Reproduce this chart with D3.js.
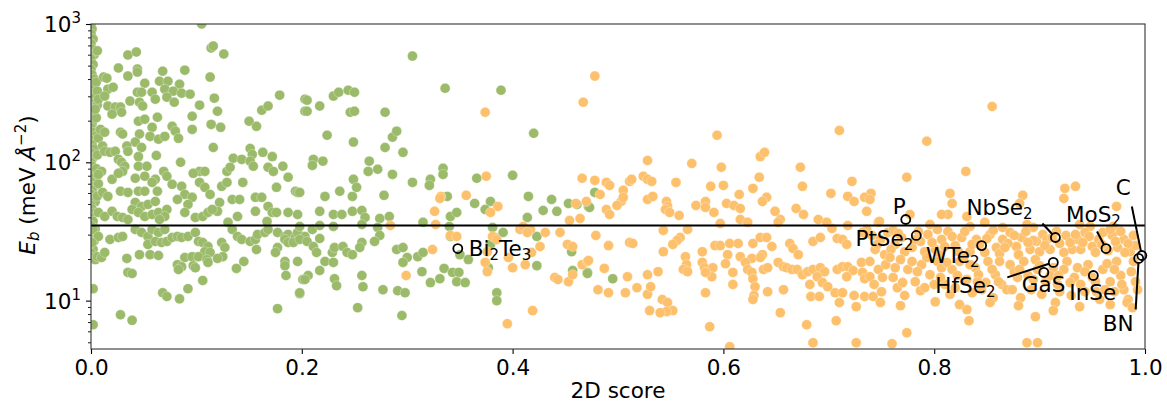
<!DOCTYPE html>
<html>
<head>
<meta charset="utf-8">
<script src="https://cdn.jsdelivr.net/npm/d3@7/dist/d3.min.js"></script>
<style>
	body { margin: 0; background: #fff; }
	text { font-family: "DejaVu Sans", sans-serif; fill: #000; }
</style>
</head>
<body>
<script>
// [2D score, Eb (meV/A^2)]
var greenPoints = [
	[0,1000],[0.001,920],[0,850],[0.002,780],[0,720],[0.001,660],[0.003,600],[0,560],[0.002,510],[0,470],[0.001,430],[0.003,400],[0,370],[0.002,340],[0,315],[0.001,290],[0.004,270],[0,250],[0.002,235],[0,220],[0.003,205],[0.001,190],[0,178],[0.002,165],[0.004,155],[0,145],[0.001,135],[0.003,125],[0,117],[0.002,108],[0,100],[0.001,94],[0.004,88],[0,82],[0.002,77],[0,72],[0.003,67],[0.001,63],[0,59],[0.002,55],[0.004,52],[0,49],[0.001,46],[0.003,43],[0,40],[0.002,37.5],[0,35],[0.004,33],[0.001,31],[0,29],[0.003,27],[0,25],[0.002,23.5],[0,22],[0.001,20.5],[0.004,19.8],[0.002,12.2],[0.002,6.7],
	[0.006,640],[0.005,380],[0.006,260],[0.005,210],[0.007,150],[0.006,113],[0.005,90],[0.007,70],[0.006,57],
	[0.105,1000],[0.114,670],[0.116,693],[0.126,606],[0.035,596],[0.043,627],[0.026,480],[0.035,420],[0.044,472],[0.044,449],[0.012,413],[0.015,406],[0.068,456],[0.089,464],[0.113,413],[0.051,373],[0.065,386],[0.073,386],[0.084,367],[0.016,338],[0.021,349],[0.044,321],[0.048,321],[0.058,321],[0.061,286],[0.070,338],[0.078,327],[0.086,316],[0.094,311],[0.072,296],[0.079,272],[0.037,277],[0.046,272],[0.049,255],[0.006,327],[0.007,286],[0.004,242],[0.013,301],[0.016,255],[0.023,251],[0.028,251],[0.029,230],[0.020,223],[0.103,259],[0.117,291],[0.120,234],[0.096,215],[0.114,188],[0.123,179],[0.063,212],[0.045,198],[0.051,205],[0.058,179],[0.077,182],[0.080,168],[0.083,149],[0.096,173],[0.009,173],[0.013,165],[0.028,165],[0.030,160],[0.046,160],[0.056,154],[0.064,147],[0.070,154],[0.042,140],[0.034,131],[0.035,120],[0.048,128],[0.011,131],[0.013,120],[0.018,118],[0.023,120],[0.026,105],[0.029,100],[0.032,93.6],[0.030,86],[0.045,110],[0.045,93.6],[0.053,93.6],[0.062,112],[0.085,100],[0.116,128],[0.135,107],[0.143,105],[0.151,126],[0.153,114],[0.151,102],[0.154,93.6],[0.163,118],[0.172,110],[0.150,198],[0.157,182],[0.162,238],[0.168,255],[0.179,306],[0.203,286],[0.203,234],[0.103,86],[0.108,86],[0.097,83.2],[0.069,86],[0.072,79.2],[0.129,86],[0.132,92],[0.168,92],[0.173,86],[0.182,93.6],[0.187,77.9],[0.010,86],[0.007,81.8],[0.020,75.3],[0.026,83.2],[0.042,76.6],[0.051,79.2],[0.061,75.3],
	[0.011,60.6],[0.016,56.7],[0.028,61.7],[0.035,60.6],[0.045,61.7],[0.051,61.7],[0.058,71.6],[0.063,61.7],[0.077,69.3],[0.086,67],[0.089,58.6],[0.096,55.8],[0.092,49.6],[0.103,71.6],[0.108,65.9],[0.113,58.6],[0.124,67],[0.129,71.6],[0.144,71.6],[0.176,65.9],[0.194,61.7],[0.196,60.6],[0.134,53.9],[0.141,53.9],[0.156,55.8],[0.162,55.8],[0.122,51.3],[0.120,44.2],[0.042,51.3],[0.048,48],[0.054,49.6],[0.061,52.1],[0.039,45.6],[0.045,43.4],[0.051,40.6],[0.058,42],[0.064,43.4],[0.007,43.4],[0.013,40.6],[0.020,44.2],[0.025,40.6],[0.030,39.9],[0.035,38.6],[0.082,53.9],[0.089,43.4],[0.099,39.9],[0.072,45.6],[0.070,40.6],[0.065,38.6],[0.106,40.6],[0.111,43.4],[0.115,45.6],[0.139,40.6],[0.156,44.2],[0.168,48],[0.172,43.4],[0.176,43.4],[0.187,43.4],[0.196,42],[0.130,36.8],[0.167,37.4],[0.002,32.7],[0.007,29.1],[0.001,26.3],[0.006,20.8],[0.010,20.5],[0.013,22.3],[0.018,27.7],[0.026,28.6],[0.030,29.1],[0.042,32.7],[0.048,31.1],[0.054,29.1],[0.058,32.7],[0.064,31.1],[0.070,32.7],[0.054,25.5],[0.061,26.8],[0.067,26.3],[0.072,26.8],[0.077,28.6],[0.082,29.1],[0.086,28.6],[0.092,29.1],[0.099,31.1],[0.102,26.8],[0.106,26.3],[0.111,24.6],[0.108,22.6],[0.113,22.3],[0.046,21.5],[0.056,21.5],[0.064,21.2],[0.089,20.5],[0.096,20.8],[0.102,20.8],[0.082,18.2],[0.086,17.6],[0.083,16.8],[0.097,17.9],[0.099,17.3],[0.110,19.8],[0.111,18.9],[0.124,26.3],[0.127,24.2],[0.125,20.8],[0.120,20.2],[0.134,32.7],[0.139,29.1],[0.143,27.7],[0.151,26.8],[0.156,27.7],[0.158,30.1],[0.165,31.1],[0.168,32.7],[0.177,31.1],[0.184,29.1],[0.187,30.1],[0.194,29.1],[0.196,31.1],[0.203,29.1],[0.184,27.7],[0.187,26.3],[0.192,26.3],[0.177,24.2],[0.175,22.3],[0.157,23.4],[0.145,19.2],[0.138,17.1],[0.034,20.2],[0.035,16.0],[0.039,15.7],[0.184,19.2],[0.184,17.9],[0.185,15.2],[0.196,19.2],[0.201,14.2],[0.198,11.2],[0.106,14.0],[0.092,12.2],[0.084,10.3],[0.068,11.4],[0.072,10.7],[0.028,7.9],[0.039,7.2],[0.177,8.75],
	[0.205,234],[0.217,255],[0.246,230],[0.250,234],[0.279,230],[0.224,157],[0.249,140],[0.286,152],[0.290,168],[0.279,128],[0.296,118],[0.211,105],[0.210,95],[0.220,102],[0.264,102],[0.263,86],[0.272,89],[0.286,81.8],[0.249,75.3],[0.252,65.9],[0.236,61.7],[0.305,71.6],[0.322,75.3],[0.321,68.1],[0.334,90.5],[0.334,81.8],[0.248,56.7],[0.222,56.7],[0.278,57.7],[0.198,60.6],[0.366,76.6],[0.400,80.5],[0.420,162],[0.338,56.7],[0.364,50.4],[0.379,52.1],[0.374,45.6],[0.415,56.7],[0.437,53.9],[0.429,44.9],[0.442,44.2],[0.453,50.4],[0.461,49.6],[0.217,44.2],[0.230,42],[0.238,42],[0.248,44.2],[0.257,44.9],[0.260,39.9],[0.274,39.3],[0.283,40.6],[0.315,36.8],[0.341,40.6],[0.347,43.4],[0.340,34.4],[0.414,39.9],[0.198,34.4],[0.210,32.7],[0.217,34.9],[0.230,34.4],[0.257,35.5],[0.272,33.8],[0.274,29.6],[0.269,26.8],[0.257,26.3],[0.255,24.2],[0.198,27.7],[0.205,26.8],[0.217,28.1],[0.211,24.6],[0.214,22.3],[0.222,19.2],[0.230,18.9],[0.229,22.3],[0.231,24.2],[0.239,24.6],[0.243,22.3],[0.248,21.5],[0.290,23.4],[0.296,24.2],[0.300,20.5],[0.296,18.9],[0.310,20.8],[0.315,22.3],[0.206,15.2],[0.203,14.2],[0.198,11.4],[0.217,16.5],[0.231,14.4],[0.233,12.8],[0.257,15.2],[0.258,12.6],[0.277,12.0],[0.291,11.8],[0.298,11.4],[0.314,16.2],[0.322,13.5],[0.331,14.4],[0.335,17.1],[0.343,16.0],[0.349,16.0],[0.347,13.7],[0.355,13.5],[0.350,21.5],[0.358,19.8],[0.341,29.1],[0.381,33.8],[0.391,31.1],[0.383,28.6],[0.379,25.5],[0.253,8.9],[0.295,7.8],[0.385,11.4],[0.385,10.0],[0.377,17.3],[0.423,29.1],[0.423,17.9],[0.456,22.6],[0.457,16.5],[0.471,16.0],[0.472,48],[0.305,586],[0.336,343],[0.389,332],[0.205,281],[0.230,301],[0.235,321],[0.244,332],[0.250,321],[0.478,60.6],[0.473,47.2],[0.471,15.7],[0.495,14.4]
];

var orangePoints = [
	[0.374,230],[0.467,272],[0.478,420],[0.375,79.2],[0.466,76.6],[0.478,74],[0.332,56.7],[0.356,57.7],[0.331,54.8],[0.386,48],[0.379,43.4],[0.326,44.2],[0.327,35.5],[0.460,50.4],[0.470,52.1],[0.464,39.3],[0.454,38],[0.284,34.9],[0.341,29.6],[0.347,29.1],[0.324,23.4],[0.381,29.1],[0.385,27.7],[0.376,22.6],[0.374,18.9],[0.396,20.5],[0.400,17.3],[0.412,18.2],[0.407,32.7],[0.410,34.4],[0.417,32.7],[0.414,31.1],[0.426,24.6],[0.431,31.1],[0.445,31.1],[0.452,25.5],[0.457,24.6],[0.418,22.3],[0.466,18.2],[0.471,19.2],[0.440,14.7],[0.443,14.2],[0.453,13.7],[0.457,15.4],[0.376,16.2],[0.299,15.2],[0.419,8.47],[0.395,6.81],
	[0.594,157],[0.710,170],[0.528,103],[0.570,98],[0.598,92],[0.635,110],[0.639,118],[0.673,92],[0.489,71.6],[0.492,68.1],[0.505,62.7],[0.511,72.8],[0.513,75.3],[0.524,79.2],[0.528,75.3],[0.532,72.8],[0.555,71.6],[0.588,67],[0.600,68.1],[0.628,64.8],[0.634,77.9],[0.675,67],[0.722,72.8],[0.740,59.6],[0.734,55.8],[0.702,59.6],[0.718,56.7],[0.724,52.1],[0.483,58.6],[0.503,52.1],[0.505,55.8],[0.499,48.8],[0.489,45.6],[0.492,42],[0.528,53.9],[0.533,56.7],[0.546,52.1],[0.547,48],[0.545,45.6],[0.549,43.4],[0.558,41.3],[0.574,48.8],[0.583,52.1],[0.583,47.2],[0.591,43.4],[0.603,50.4],[0.610,48.8],[0.616,46.4],[0.615,58.6],[0.641,55.8],[0.637,52.1],[0.649,44.2],[0.654,38.6],[0.652,36.8],[0.669,46.4],[0.676,42],[0.736,44.2],[0.747,36.8],[0.739,53.9],[0.597,36.1],[0.616,38.6],[0.623,36.8],[0.690,38.6],[0.698,36.8],[0.703,33.2],[0.718,34.9],[0.736,32.7],[0.732,31.1],[0.566,32.7],[0.559,28.6],[0.556,27.2],[0.552,25.5],[0.543,32.2],[0.543,22.6],[0.479,29.6],[0.491,25],[0.511,26.3],[0.514,25.9],[0.592,25],[0.597,25],[0.606,25.9],[0.614,25.9],[0.628,25.9],[0.635,28.6],[0.641,28.6],[0.646,24.6],[0.663,25.9],[0.666,23.8],[0.671,21.5],[0.685,26.8],[0.692,28.6],[0.708,28.1],[0.713,27.7],[0.717,25.5],[0.580,22.6],[0.604,21.5],[0.616,20.8],[0.627,20.2],[0.637,21.5],[0.564,20.8],[0.565,18.2],[0.562,16.8],[0.566,16.2],[0.472,19.5],[0.487,17.1],[0.509,14.9],[0.528,15.4],[0.538,16.2],[0.580,18.9],[0.582,17.3],[0.590,17.3],[0.589,14.9],[0.583,16.0],[0.602,18.5],[0.609,16.0],[0.621,18.9],[0.623,16.8],[0.627,16.0],[0.628,14.4],[0.630,12.6],[0.635,20.5],[0.638,16.8],[0.642,17.3],[0.652,18.9],[0.657,17.6],[0.660,17.3],[0.665,16.8],[0.670,16.8],[0.675,15.4],[0.680,16.2],[0.685,16.8],[0.692,17.3],[0.696,16.2],[0.689,14.9],[0.694,13.5],[0.708,16.8],[0.713,17.6],[0.718,17.6],[0.723,16.5],[0.717,14.9],[0.731,18.9],[0.732,16.0],[0.734,14.4],[0.739,14.9],[0.481,12.0],[0.491,11.4],[0.507,11.4],[0.518,12.4],[0.528,11.1],[0.531,12.6],[0.542,10.2],[0.547,9.68],[0.552,8.47],[0.546,8.33],[0.540,8.19],[0.530,8.47],[0.583,11.4],[0.587,6.48],[0.606,4.64],[0.609,13.1],[0.629,10.9],[0.628,10.2],[0.642,11.6],[0.657,12.0],[0.654,8.19],[0.682,13.1],[0.683,10.7],[0.691,10.7],[0.679,6.7],[0.685,4.96],[0.699,12.6],[0.706,11.4],[0.713,11.4],[0.710,9.68],[0.707,7.16],[0.724,10.9],[0.726,9.05],[0.726,4.96],[0.734,10.7],[0.742,10.7],
	[0.855,253],[0.793,142],[0.830,86],[0.774,78],[0.815,59.6],[0.817,50.4],[0.813,42],[0.807,42],[0.884,57.7],[0.881,50.4],[0.924,64.8],[0.934,67],[0.923,54.8],[0.973,48],[0.748,37.4],[0.777,42],[0.796,35.5],[0.831,40.6],[0.834,34.4],[0.848,36.8],[0.865,33.8],[0.888,35.5],[0.894,33.8],[0.938,35.5],[0.948,34.4],[0.970,34.4],
	[0.741,29.6],[0.749,27.7],[0.756,31.1],[0.763,25.5],[0.769,28.6],[0.779,24.2],[0.787,26.8],[0.794,30.1],[0.801,23.4],[0.807,27.7],[0.813,31.6],[0.820,25.0],[0.826,28.6],[0.834,22.6],[0.840,27.7],[0.853,30.1],[0.859,24.2],[0.865,27.7],[0.872,31.1],[0.878,24.6],[0.883,28.6],[0.891,23.4],[0.897,26.8],[0.903,30.1],[0.910,23.4],[0.919,25.9],[0.925,29.6],[0.931,23.4],[0.936,27.7],[0.943,31.1],[0.950,24.6],[0.956,27.7],[0.969,29.6],[0.974,24.2],[0.980,27.7],[0.986,22.6],[0.991,25.0],
	[0.744,23.4],[0.753,21.5],[0.761,32.2],[0.772,22.6],[0.785,31.6],[0.798,26.3],[0.805,21.5],[0.817,29.1],[0.829,31.6],[0.836,25.5],[0.848,22.3],[0.856,32.2],[0.862,21.9],[0.870,25.9],[0.876,29.6],[0.887,31.6],[0.894,27.2],[0.900,22.6],[0.907,27.7],[0.916,31.6],[0.923,22.3],[0.929,26.3],[0.939,23.4],[0.947,29.1],[0.953,22.3],[0.960,31.1],[0.965,23.0],[0.972,26.8],[0.977,31.6],[0.984,25.9],
	[0.746,25.5],[0.759,23.4],[0.766,30.6],[0.782,27.7],[0.791,22.6],[0.803,32.7],[0.810,24.6],[0.823,22.6],[0.843,25.5],[0.850,28.1],[0.867,24.2],[0.880,21.5],[0.889,26.3],[0.905,25.0],[0.912,28.6],[0.934,30.1],[0.941,26.3],[0.959,25.5],[0.967,32.7],[0.981,22.3],[0.989,29.6],
	[0.739,19.2],[0.747,16.8],[0.754,18.2],[0.761,14.7],[0.768,19.8],[0.775,16.8],[0.782,13.7],[0.788,18.2],[0.796,15.4],[0.803,19.2],[0.810,13.1],[0.817,16.8],[0.824,19.2],[0.831,14.2],[0.839,17.3],[0.845,12.0],[0.851,19.2],[0.858,15.4],[0.864,13.1],[0.872,18.2],[0.879,14.7],[0.885,19.2],[0.892,12.0],[0.898,16.8],[0.906,13.7],[0.913,17.3],[0.919,11.6],[0.926,19.2],[0.933,14.7],[0.939,13.1],[0.946,18.2],[0.954,11.6],[0.960,16.8],[0.967,13.7],[0.973,19.2],[0.980,12.0],[0.987,16.2],[0.991,13.7],
	[0.743,13.1],[0.750,11.6],[0.758,20.5],[0.765,12.4],[0.772,10.9],[0.779,19.2],[0.787,11.8],[0.793,20.5],[0.800,13.1],[0.807,17.3],[0.815,11.1],[0.822,15.2],[0.828,20.5],[0.836,11.4],[0.842,15.4],[0.849,13.5],[0.856,10.5],[0.862,19.2],[0.869,12.0],[0.876,16.2],[0.882,10.5],[0.889,15.2],[0.896,19.8],[0.902,11.1],[0.910,15.2],[0.917,13.1],[0.923,16.8],[0.930,10.9],[0.936,17.3],[0.943,11.6],[0.950,14.7],[0.957,10.2],[0.964,18.5],[0.971,11.6],[0.977,15.2],[0.984,10.2],
	[0.751,14.7],[0.763,17.3],[0.770,13.5],[0.784,16.2],[0.791,12.4],[0.806,14.7],[0.812,18.9],[0.820,12.4],[0.834,18.2],[0.841,13.7],[0.855,16.8],[0.861,13.7],[0.874,12.0],[0.881,16.8],[0.894,14.2],[0.900,17.9],[0.918,15.2],[0.929,13.5],[0.943,16.2],[0.953,13.7],[0.962,12.0],[0.971,16.8],[0.978,13.1],[0.989,19.2],[0.993,12.0],
	[0.749,9.68],[0.768,9.2],[0.801,9.8],[0.824,9.36],[0.853,9.68],[0.880,9.2],[0.915,9.68],[0.938,9.05],[0.967,9.36],
	[0.774,5.86],[0.760,4.88],[0.888,4.96],[0.898,4.96],[0.896,7.66],[0.913,8.47],[0.831,8.61],[0.833,7.16],[0.983,9.68],[0.988,8.9]
];

var labelNames = ['Bi_2Te_3', 'P', 'PtSe_2', 'WTe_2', 'NbSe_2', 'MoS_2', 'C', 'BN', 'HfSe_2', 'GaS', 'InSe'];
var labelScores = [0.348, 0.773, 0.783, 0.845, 0.915, 0.963, 0.997, 0.994, 0.913, 0.904, 0.951];
var labelEb = [23.8, 38.6, 29.6, 25.0, 28.6, 23.8, 21.2, 20.2, 18.9, 16.0, 15.2];

var threshold = 35;
var xTicks = [0, 0.2, 0.4, 0.6, 0.8, 1.0];
var yTicks = [10, 100, 1000];
var yExponents = ['1', '2', '3'];

var W = 1167, H = 404;
var fontSize = 21.5;
var dotR = 5;

var x = d3.scaleLinear().domain([0, 1]).range([91, 1145]);
var y = d3.scaleLog().domain([4.47, 1000]).range([349, 24]);

var svg = d3.select('body')
	.append('svg')
	.attr('width', W)
	.attr('height', H);

svg.append('defs')
	.append('clipPath')
	.attr('id', 'plotclip')
	.append('rect')
	.attr('x', 91)
	.attr('y', 24)
	.attr('width', 1054)
	.attr('height', 325);

var plot = svg.append('g').attr('clip-path', 'url(#plotclip)');

// scatter: green first, orange on top
plot.selectAll('circle.green')
	.data(greenPoints)
	.enter()
	.append('circle')
	.attr('class', 'green')
	.attr('cx', function(d) { return x(d[0]); })
	.attr('cy', function(d) { return y(d[1]); })
	.attr('r', dotR)
	.attr('fill', '#9bbb6b')
	.attr('stroke', '#fff')
	.attr('stroke-width', 0.3);

plot.selectAll('circle.orange')
	.data(orangePoints)
	.enter()
	.append('circle')
	.attr('class', 'orange')
	.attr('cx', function(d) { return x(d[0]); })
	.attr('cy', function(d) { return y(d[1]); })
	.attr('r', dotR)
	.attr('fill', '#fdc06c')
	.attr('stroke', '#fff')
	.attr('stroke-width', 0.3);

// threshold line
plot.append('line')
	.attr('x1', x(0))
	.attr('x2', x(1))
	.attr('y1', y(threshold))
	.attr('y2', y(threshold))
	.attr('stroke', '#000')
	.attr('stroke-width', 2);

// x axis
var xAxis = svg.append('g')
	.attr('transform', 'translate(0,349)')
	.call(d3.axisBottom(x).tickValues(xTicks).tickSize(5).tickSizeOuter(0).tickFormat(d3.format('.1f')));
xAxis.select('.domain').remove();
xAxis.selectAll('line').attr('stroke', '#000').attr('stroke-width', 1.1);
xAxis.selectAll('text')
	.attr('y', 26)
	.attr('dy', 0)
	.style('font-size', fontSize + 'px')
	.style('font-family', '"DejaVu Sans", sans-serif');

// y axis, minor ticks
var minorTicks = [];
[1, 10, 100].forEach(function(dec) {
	for (var k = 2; k <= 9; k++) {
		if (dec * k >= 4.47) minorTicks.push(dec * k);
	}
});
var yMinor = svg.append('g')
	.attr('transform', 'translate(91,0)')
	.call(d3.axisLeft(y).tickValues(minorTicks).tickSize(3).tickSizeOuter(0).tickFormat(''));
yMinor.select('.domain').remove();
yMinor.selectAll('line').attr('stroke', '#000').attr('stroke-width', 0.9);

var yAxis = svg.append('g')
	.attr('transform', 'translate(91,0)')
	.call(d3.axisLeft(y).tickValues(yTicks).tickSize(5).tickSizeOuter(0).tickFormat(''));
yAxis.select('.domain').remove();
yAxis.selectAll('line').attr('stroke', '#000').attr('stroke-width', 1.1);

var yLabels = svg.selectAll('text.ytick')
	.data(yTicks)
	.enter()
	.append('text')
	.attr('class', 'ytick')
	.attr('text-anchor', 'end')
	.attr('x', 81)
	.attr('y', function(d) { return y(d) + 8; })
	.style('font-size', fontSize + 'px');
yLabels.append('tspan').text('10');
yLabels.append('tspan')
	.attr('dy', -9)
	.style('font-size', '15px')
	.text(function(d, i) { return yExponents[i]; });

// frame
svg.append('rect')
	.attr('x', 91)
	.attr('y', 24)
	.attr('width', 1054)
	.attr('height', 325)
	.attr('fill', 'none')
	.attr('stroke', '#333')
	.attr('stroke-width', 1.1);

// axis titles
svg.append('text')
	.attr('x', 618)
	.attr('y', 398)
	.attr('text-anchor', 'middle')
	.style('font-size', fontSize + 'px')
	.text('2D score');

var yTitle = svg.append('text')
	.attr('transform', 'translate(35,185) rotate(-90)')
	.attr('text-anchor', 'middle')
	.style('font-size', fontSize + 'px');
yTitle.append('tspan').style('font-style', 'italic').text('E');
yTitle.append('tspan').style('font-style', 'italic').style('font-size', '15px').attr('dy', 4).text('b');
yTitle.append('tspan').attr('dy', -4).text(' (meV ');
yTitle.append('tspan').style('font-style', 'italic').text('Å');
yTitle.append('tspan').style('font-size', '15px').attr('dy', -9).text('−2');
yTitle.append('tspan').attr('dy', 9).text(')');

// annotations: text offsets and leader lines in px from the marked point
var labelLayout = {
	'Bi_2Te_3': { dx: 11, dy: 7, anchor: 'start' },
	'P': { dx: -13, dy: -5, anchor: 'start' },
	'PtSe_2': { dx: -3, dy: 11, anchor: 'end' },
	'WTe_2': { dx: -2, dy: 17, anchor: 'end' },
	'NbSe_2': { dx: -89, dy: -23, anchor: 'start', line: [-13, -14] },
	'MoS_2': { dx: -40, dy: -27, anchor: 'start', line: [-9, -17] },
	'C': { dx: -26, dy: -60, anchor: 'start', line: [-10, -49] },
	'BN': { dx: -36, dy: 73, anchor: 'start', line: [-3, 51] },
	'HfSe_2': { dx: -118, dy: 31, anchor: 'start', line: [-46, 15] },
	'GaS': { dx: -22, dy: 20, anchor: 'start' },
	'InSe': { dx: -24, dy: 25, anchor: 'start' }
};

var marks = labelNames.map(function(name, i) {
	return { name: name, score: labelScores[i], eb: labelEb[i] };
});
var ann = svg.append('g');
var markR = 4.5;

marks.forEach(function(m) {
	var lay = labelLayout[m.name];
	var cx = x(m.score), cy = y(m.eb);
	if (lay.line) {
		var lx = cx + lay.line[0], ly = cy + lay.line[1];
		var len = Math.sqrt(lay.line[0] * lay.line[0] + lay.line[1] * lay.line[1]);
		ann.append('line')
			.attr('x1', lx)
			.attr('y1', ly)
			.attr('x2', cx + lay.line[0] * markR / len)
			.attr('y2', cy + lay.line[1] * markR / len)
			.attr('stroke', '#000')
			.attr('stroke-width', 2);
	}
	ann.append('circle')
		.attr('cx', cx)
		.attr('cy', cy)
		.attr('r', markR)
		.attr('fill', 'none')
		.attr('stroke', '#000')
		.attr('stroke-width', 1.8);

	var t = ann.append('text')
		.attr('x', cx + lay.dx)
		.attr('y', cy + lay.dy)
		.attr('text-anchor', lay.anchor)
		.style('font-size', fontSize + 'px');
	var parts = m.name.split(/_(\d)/);
	var shifted = false;
	parts.forEach(function(p, j) {
		if (p === '') return;
		if (j % 2 === 1) {
			t.append('tspan').attr('dy', 4).style('font-size', '15px').text(p);
			shifted = true;
		} else {
			t.append('tspan').attr('dy', shifted ? -4 : 0).text(p);
			shifted = false;
		}
	});
});
</script>
</body>
</html>
